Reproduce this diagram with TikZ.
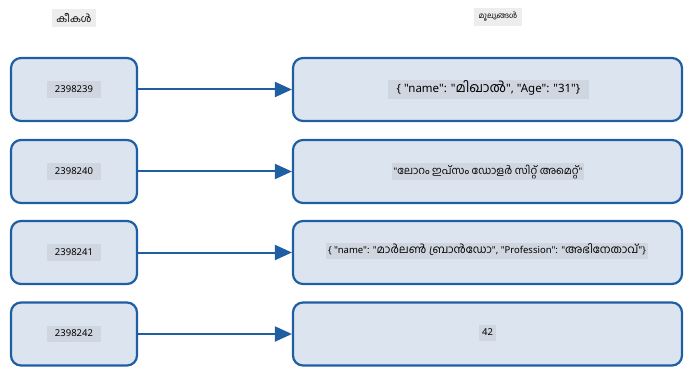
\documentclass[tikz,border=0pt]{standalone}
\usepackage{fontspec}
\setmainfont{Noto Sans}[Ligatures=TeXOff]
\newfontfamily\mal[Script=Malayalam,Scale=1.18]{Hind Kochi}
\usetikzlibrary{arrows.meta}
\definecolor{boxline}{HTML}{1E5FA3}
\definecolor{boxfill}{HTML}{DCE4EF}
\definecolor{labfill}{HTML}{CFD6E0}
\definecolor{headfill}{HTML}{EDEDED}
\tikzset{
  keybox/.style={draw=boxline, line width=2.2pt, fill=boxfill, rounded corners=10pt, minimum width=126pt, minimum height=63pt, inner sep=0pt},
  valbox/.style={draw=boxline, line width=2.2pt, fill=boxfill, rounded corners=10pt, minimum width=389pt, minimum height=63pt, inner sep=0pt},
  lab/.style={fill=labfill, inner xsep=8pt, inner ysep=3pt, text height=8pt, text depth=2.5pt, font=\fontsize{9.5}{11}\selectfont},
  head/.style={fill=headfill, inner xsep=4pt, inner ysep=4pt},
  conn/.style={draw=boxline, line width=2pt, -{Triangle[length=17pt,width=15pt]}}
}
\begin{document}
\begin{tikzpicture}[x=1pt,y=-1pt]
\useasboundingbox (0,0) rectangle (698,382);
\node[head, font=\fontsize{8.5}{10}\selectfont] (hk) at (74,18) {\mal കീകൾ};
\node[head, font=\fontsize{6.5}{8}\selectfont, inner xsep=5pt] (hv) at (498,17) {\mal മൂല്യങ്ങൾ};
\foreach \i/\y in {1/89.5, 2/171.5, 3/252.5, 4/334}{
  \node[keybox] (k\i) at (74,\y) {};
  \node[valbox] (v\i) at (487.5,\y) {};
  \draw[conn] (k\i.east) -- (v\i.west);
}
\node[lab] (k1t) at (k1.center) {2398239};
\node[lab] (k2t) at (k2.center) {2398240};
\node[lab] (k3t) at (k3.center) {2398241};
\node[lab] (k4t) at (k4.center) {2398242};
\node[lab, font=\fontsize{11.5}{13}\selectfont, inner xsep=9pt, text height=9.5pt, text depth=3pt] (v1t) at (488.5,89.5) {\{ "name": "{\mal മിഖാൽ}", "Age": "31"\}};
\node[lab, font=\fontsize{9}{11}\selectfont, inner xsep=2pt] (v2t) at (488,171.5) {"{\mal ലോറം ഇപ്സം ഡോളർ സിറ്റ് അമെറ്റ്}"};
\node[lab, font=\fontsize{9.5}{11}\selectfont, inner xsep=2pt] (v3t) at (487,251) {\{ "name": "{\mal മാർലൺ ബ്രാൻഡോ}", "Profession": "{\mal അഭിനേതാവ്}"\}};
\node[lab, inner xsep=3pt] (v4t) at (487.5,333) {42};
\end{tikzpicture}
\end{document}
